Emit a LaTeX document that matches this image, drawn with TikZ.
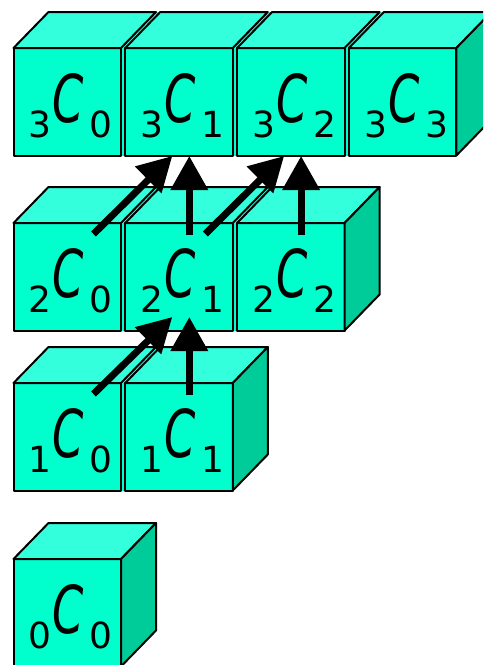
\documentclass[tikz,border=0pt]{standalone}
\usepackage{fontspec}
\setmainfont{DejaVu Sans}
\usepackage{xcolor}
\usetikzlibrary{arrows.meta, calc}

\definecolor{cubefront}{HTML}{00FFCC}
\definecolor{cubetop}{HTML}{33FFDD}
\definecolor{cubeside}{HTML}{00CC99}

\newcommand{\cletter}{\scalebox{0.68}[1]{\fontsize{66}{66}\selectfont\itshape C}}

\tikzset{
  frontface/.style={fill=cubefront, draw=black, line width=2pt, line join=round},
  topface/.style={fill=cubetop, draw=black, line width=2pt, line join=round},
  sideface/.style={fill=cubeside, draw=black, line width=2pt, line join=round},
  cubelabel/.style={anchor=base west, inner sep=0pt, font=\fontsize{36}{36}\selectfont},
  uparrow/.style={line width=7pt, -{Triangle[length=34pt, width=36pt]}}
}

\begin{document}
\begin{tikzpicture}[x=1pt, y=-1pt]
  \useasboundingbox (0,0) rectangle (483,665);
  \clip (0,0) rectangle (483,665);

  % rows: index / front top / number of cubes / arrow head depth
  \foreach \r/\t/\n/\h in {3/48/4/108, 2/223/3/94, 1/383/2/108, 0/559/1/108} {
    \pgfmathtruncatemacro\last{\n-1}
    \pgfmathsetmacro\rx{13.5+111.8*\last+107.5}
    % backing so the thin gaps between cubes stay coloured
    \fill[cubefront] (13.5,\t) rectangle (\rx,\t+107.5);
    \fill[cubetop] (13.5,\t) -- ++(35,-36) -- (\rx+35,\t-36) -- (\rx,\t) -- cycle;
    \foreach \i in {0,...,\last} {
      \pgfmathsetmacro\lx{13.5+111.8*\i}
      % cube faces
      \draw[frontface] (\lx,\t) rectangle ++(107.5,107.5);
      \draw[topface] (\lx,\t) -- ++(35,-36) -- ++(107.5,0) -- ++(-35,36) -- cycle;
      \ifnum\i=\last
        \draw[sideface] (\lx+107.5,\t) -- ++(35,-36) -- ++(0,107.5) -- ++(-35,36) -- cycle;
      \fi
      % label
      \node[cubelabel] (c\r\i) at (\lx+15,\t+89) {\r\kern1pt\raisebox{15pt}{\cletter}\kern6pt\i};
      % arrow ends
      \coordinate (k\r\i-dtail) at (\lx+80,\t+11);
      \coordinate (k\r\i-vtail) at (\lx+64,\t+12);
      \coordinate (k\r\i-dhead) at (\lx+47,\t+\h);
      \coordinate (k\r\i-vhead) at (\lx+64,\t+\h);
    }
  }

  % arrows between rows
  \foreach \a/\b in {k20-dtail/k31-dhead, k21-vtail/k31-vhead,
                     k21-dtail/k32-dhead, k22-vtail/k32-vhead,
                     k10-dtail/k21-dhead, k11-vtail/k21-vhead} {
    \draw[uparrow] (\a) -- (\b);
  }
\end{tikzpicture}
\end{document}
